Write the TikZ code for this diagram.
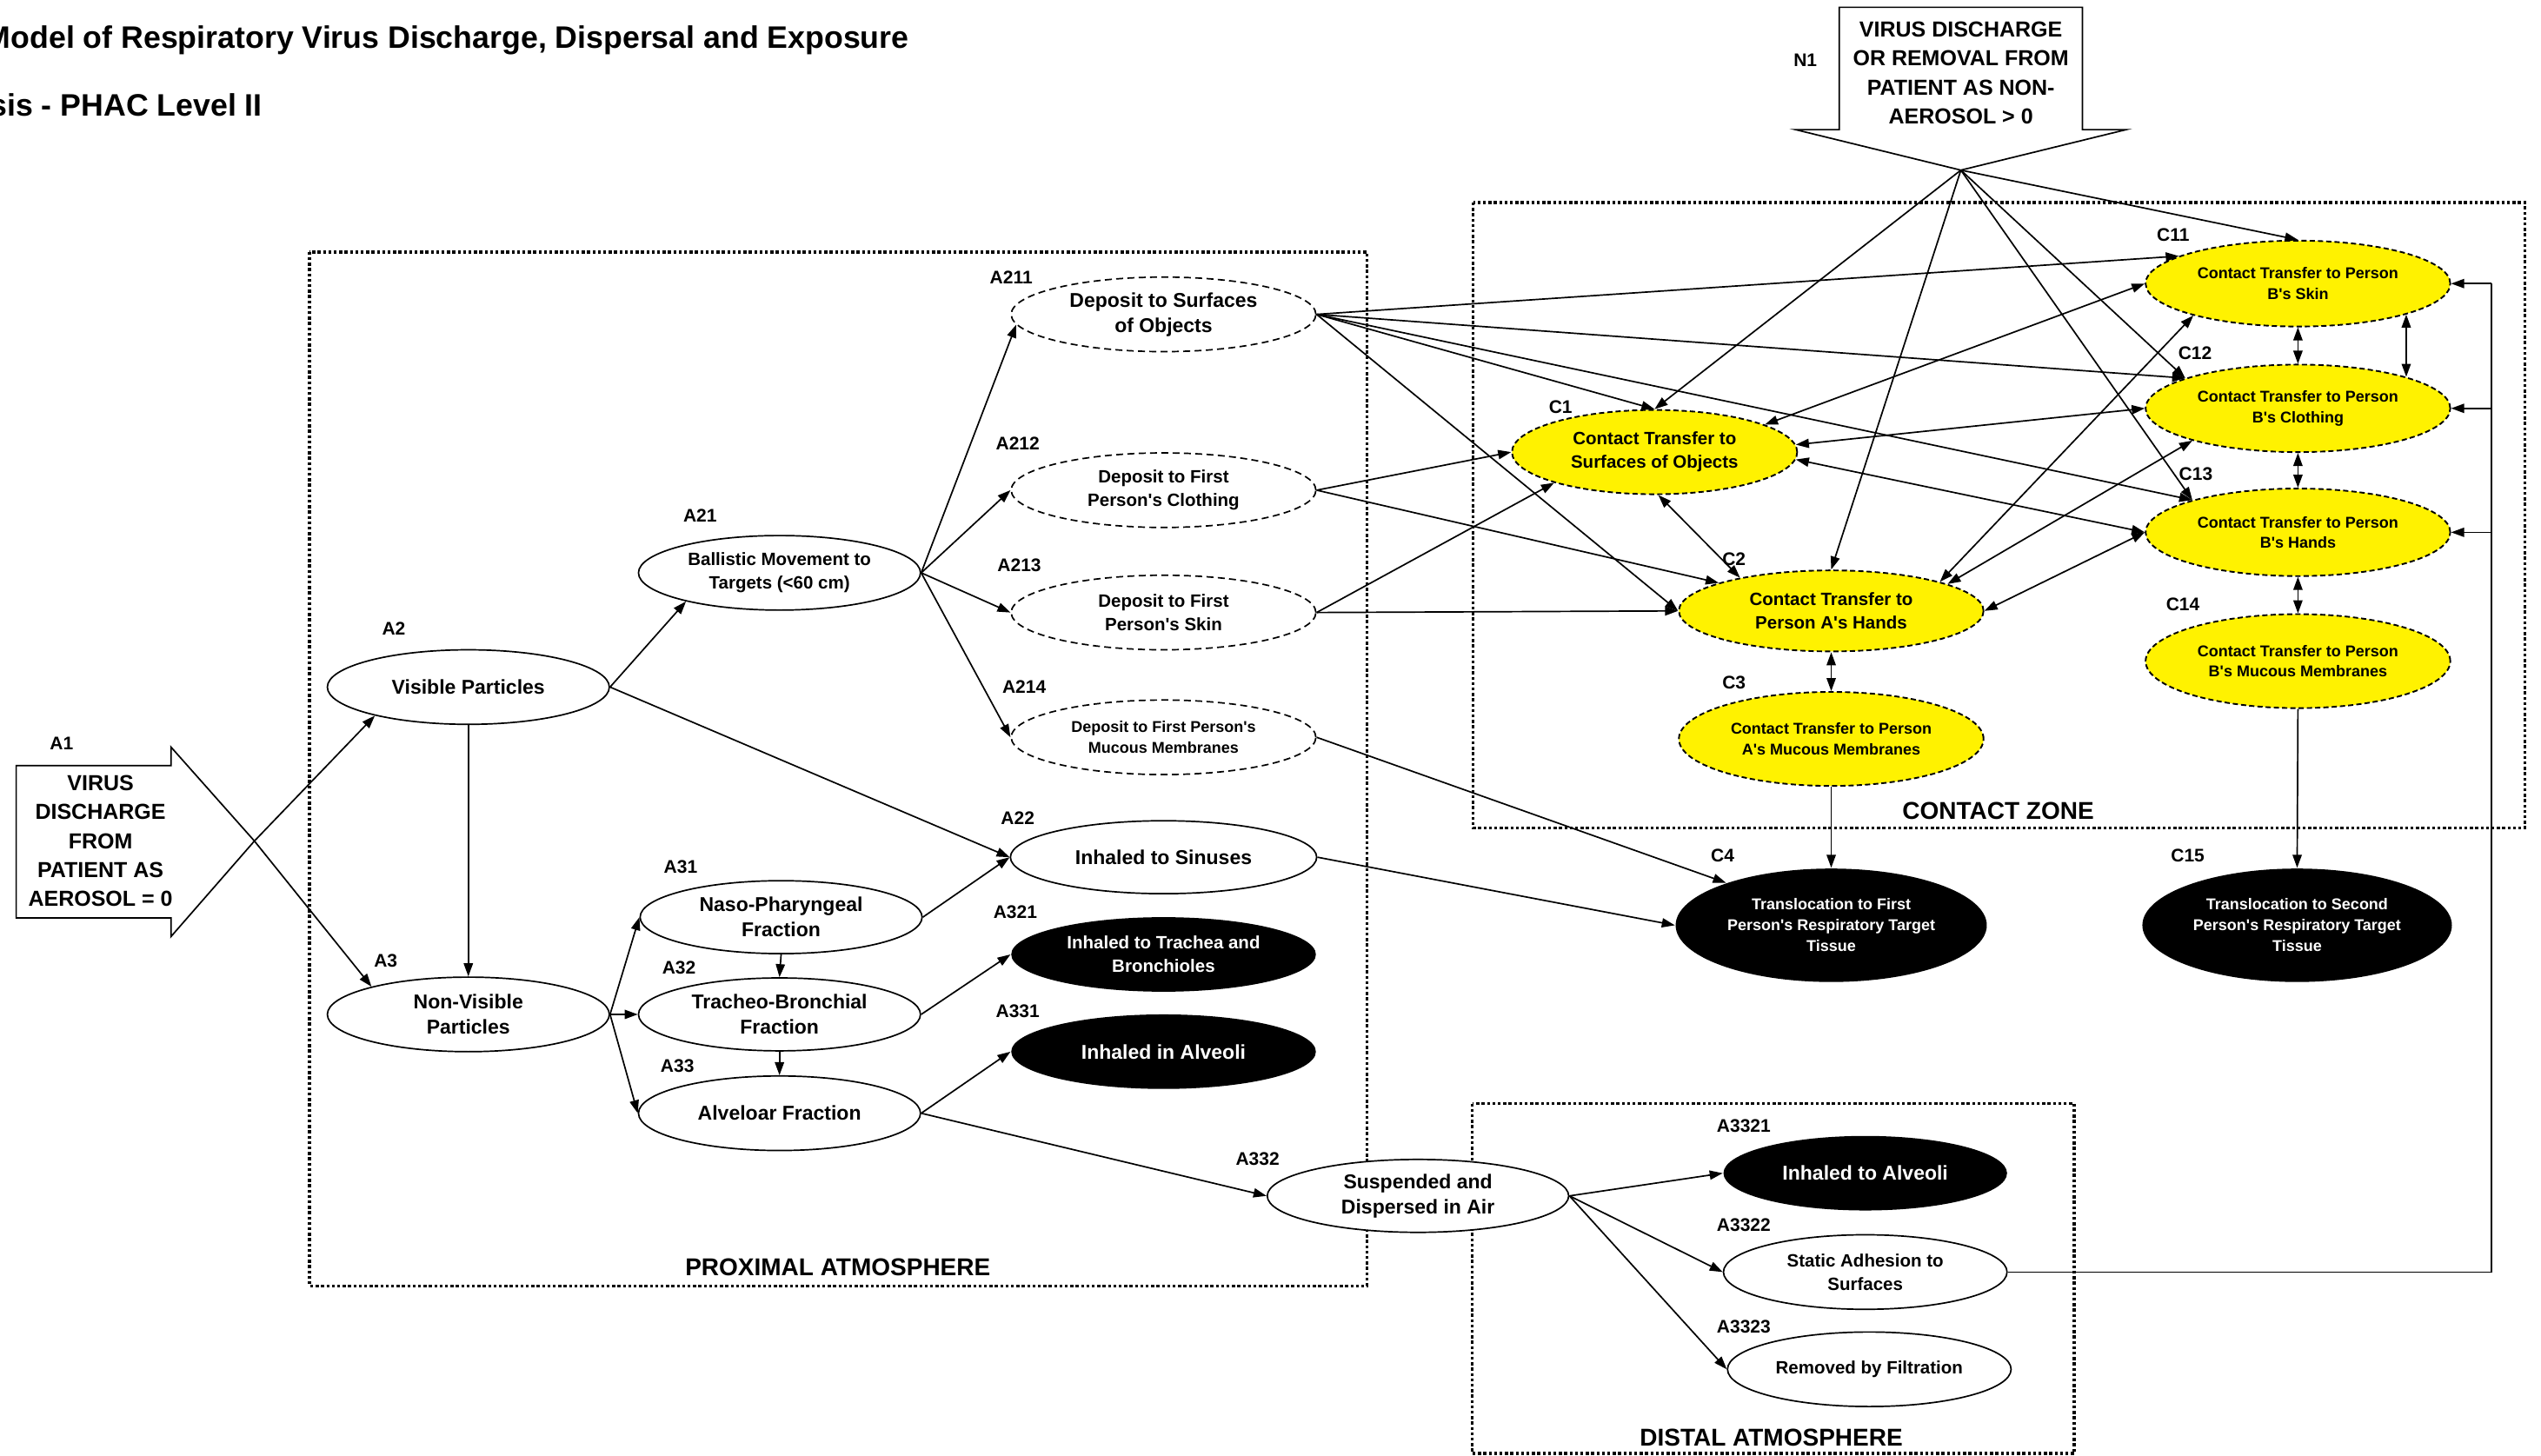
\documentclass[tikz,border=0pt]{standalone}
\usepackage{fontspec}
\setmainfont{Liberation Sans}[Ligatures=TeXOff]
\usetikzlibrary{shapes.geometric,arrows.meta}
\newcommand\fz[2]{\fontsize{#1}{#2}\selectfont\bfseries}
\tikzset{
  sz/.style 2 args={minimum width=#1*1.8642pt, minimum height=#2*1.8642pt},
  el/.style={ellipse, inner sep=0pt, align=center, line width=1.7pt},
  wht/.style={el, draw, fill=white},
  dep/.style={el, draw, fill=white, dash pattern=on 8pt off 5pt},
  ylw/.style={el, draw, fill=yellow, line width=1.9pt, dash pattern=on 6pt off 3.5pt},
  blk/.style={el, fill=black, text=white},
  fA/.style={font=\fz{23}{29}},
  fB/.style={font=\fz{20.5}{27}},
  fC/.style={font=\fz{18}{23.5}},
  tag/.style={font=\fz{21}{25}, inner sep=0pt},
  zlab/.style={font=\fz{28}{32}, inner sep=0pt},
  arr/.style={line width=1.7pt, -{Triangle[length=15pt,width=10.5pt]}},
  dbl/.style={line width=1.7pt, {Triangle[length=15pt,width=10.5pt]}-{Triangle[length=15pt,width=10.5pt]}},
  zone/.style={line width=3.4pt, dash pattern=on 3.4pt off 2.8pt},
  shp/.style={line width=1.7pt, line join=miter},
}
\begin{document}
\begin{tikzpicture}[x=1.8642pt,y=-1.8642pt]
\path[use as bounding box] (0,0) rectangle (1568,898.5);

% titles
\node[anchor=base east, font=\fz{35.7}{40}, inner sep=0pt] (title1) at (561,30) {Model of Respiratory Virus Discharge, Dispersal and Exposure};
\node[anchor=base east, font=\fz{35.7}{40}, inner sep=0pt] (title2) at (162,71.5) {sis - PHAC Level II};

% zones
\draw[zone] (191,155.5) rectangle (843.5,793.5);
\draw[zone] (909,125) rectangle (1558,511);
\draw[zone] (908.5,681) rectangle (1280,897);
\node[zlab] (zprox) at (517,782) {PROXIMAL ATMOSPHERE};
\node[zlab] (zcont) at (1233,500.5) {CONTACT ZONE};
\node[zlab] (zdist) at (1093,887) {DISTAL ATMOSPHERE};

% A1 arrow shape
\draw[shp, fill=white] (10,472.5) -- (105.5,472.5) -- (105.5,461) -- (157,519) -- (105.5,578) -- (105.5,566.5) -- (10,566.5) -- cycle;
\coordinate (A1tip) at (157,519);
\node[font=\fz{25}{33.4}, align=center, inner sep=0pt] (A1txt) at (62,519) {VIRUS\\DISCHARGE\\FROM\\PATIENT AS\\AEROSOL = 0};
\node[tag] (tA1) at (38,459) {A1};

% N1 arrow shape
\draw[shp, fill=white] (1135,4.5) -- (1285,4.5) -- (1285,80) -- (1312,80) -- (1210,105) -- (1108,80) -- (1135,80) -- cycle;
\coordinate (N1tip) at (1210,105);
\node[font=\fz{25}{33.4}, align=center, inner sep=0pt] (N1txt) at (1210,45) {VIRUS DISCHARGE\\OR REMOVAL FROM\\PATIENT AS NON-\\AEROSOL > 0};
\node[tag] (tN1) at (1114,37) {N1};

% A nodes
\node[wht, sz={174}{46}, fA] (A2) at (289,424) {Visible Particles};
\node[wht, sz={174}{46}, fA] (A3) at (289,626) {Non-Visible\\Particles};
\node[wht, sz={174}{46}, fB] (A21) at (481,353.5) {Ballistic Movement to\\Targets (<60 cm)};
\node[dep, sz={188}{46}, fA] (A211) at (718,194) {Deposit to Surfaces\\of Objects};
\node[dep, sz={188}{46}, fB] (A212) at (718,302.5) {Deposit to First\\Person's Clothing};
\node[dep, sz={188}{46}, fB] (A213) at (718,378) {Deposit to First\\Person's Skin};
\node[dep, sz={188}{46}, fC] (A214) at (718,455) {Deposit to First Person's\\Mucous Membranes};
\node[wht, sz={189}{45}, fA] (A22) at (718,529) {Inhaled to Sinuses};
\node[wht, sz={174}{45}, fA] (A31) at (482,566) {Naso-Pharyngeal\\Fraction};
\node[wht, sz={174}{45}, fA] (A32) at (481,626) {Tracheo-Bronchial\\Fraction};
\node[wht, sz={174}{46}, fA] (A33) at (481,687) {Alveloar Fraction};
\node[blk, sz={188}{46}, fB] (A321) at (718,589) {Inhaled to Trachea and\\Bronchioles};
\node[blk, sz={188}{46}, fA] (A331) at (718,649) {Inhaled in Alveoli};
\node[wht, sz={186}{45}, fA] (A332) at (875,738) {Suspended and\\Dispersed in Air};
\node[blk, sz={175}{46}, fA] (A3321) at (1151,724) {Inhaled to Alveoli};
\node[wht, sz={175}{46}, fB] (A3322) at (1151,785) {Static Adhesion to\\Surfaces};
\node[wht, sz={175}{46}, fB] (A3323) at (1153.5,845) {Removed by Filtration};

% C nodes
\node[ylw, sz={176}{52}, fB] (C1) at (1021,279) {Contact Transfer to\\Surfaces of Objects};
\node[ylw, sz={188}{50}, fB] (C2) at (1130,377) {Contact Transfer to\\Person A's Hands};
\node[ylw, sz={188}{58}, fC] (C3) at (1130,456) {Contact Transfer to Person\\A's Mucous Membranes};
\node[ylw, sz={188}{53}, fC] (C11) at (1418,175) {Contact Transfer to Person\\B's Skin};
\node[ylw, sz={188}{54}, fC] (C12) at (1418,252) {Contact Transfer to Person\\B's Clothing};
\node[ylw, sz={188}{54}, fC] (C13) at (1418,328.5) {Contact Transfer to Person\\B's Hands};
\node[ylw, sz={188}{58}, fC] (C14) at (1418,408) {Contact Transfer to Person\\B's Mucous Membranes};
\node[blk, sz={192}{70}, font=\fz{18}{24}] (C4) at (1130,571) {Translocation to First\\Person's Respiratory Target\\Tissue};
\node[blk, sz={191}{70}, font=\fz{18}{24}] (C15) at (1417.5,571) {Translocation to Second\\Person's Respiratory Target\\Tissue};

% tags
\node[tag] (tA2) at (243,388) {A2};
\node[tag] (tA3) at (238,593) {A3};
\node[tag] (tA21) at (432,318) {A21};
\node[tag] (tA211) at (624,171) {A211};
\node[tag] (tA212) at (628,273.5) {A212};
\node[tag] (tA213) at (629,349) {A213};
\node[tag] (tA214) at (632,424) {A214};
\node[tag] (tA22) at (628,505) {A22};
\node[tag] (tA31) at (420,535) {A31};
\node[tag] (tA32) at (419,597) {A32};
\node[tag] (tA33) at (418,658) {A33};
\node[tag] (tA321) at (626.5,563) {A321};
\node[tag] (tA331) at (628,624) {A331};
\node[tag] (tA332) at (776,715) {A332};
\node[tag] (tA3321) at (1076,695) {A3321};
\node[tag] (tA3322) at (1076,756) {A3322};
\node[tag] (tA3323) at (1076,819) {A3323};
\node[tag] (tC1) at (963,251) {C1};
\node[tag] (tC2) at (1070,345) {C2};
\node[tag] (tC3) at (1070,421) {C3};
\node[tag] (tC4) at (1063,528) {C4};
\node[tag] (tC11) at (1341,145) {C11};
\node[tag] (tC12) at (1354.5,218) {C12};
\node[tag] (tC13) at (1355,292.5) {C13};
\node[tag] (tC14) at (1347,373) {C14};
\node[tag] (tC15) at (1350,528) {C15};

% edges: aerosol side
\draw[arr] (A1tip) -- (A2.197);
\draw[arr] (A1tip) -- (A3.164);
\draw[arr] (A2.south) -- (A3.north);
\draw[arr] (A2.east) -- (A21.197);
\draw[arr] (A2.east) -- (A22.west);
\draw[arr] (A21.east) -- (A211.184);
\draw[arr] (A21.east) -- (A212.west);
\draw[arr] (A21.east) -- (A213.west);
\draw[arr] (A21.east) -- (A214.west);
\draw[arr] (A3.east) -- (A31.west);
\draw[arr] (A3.east) -- (A32.west);
\draw[arr] (A3.east) -- (A33.west);
\draw[arr] (A31.south) -- (A32.north);
\draw[arr] (A32.south) -- (A33.north);
\draw[arr] (A31.east) -- (A22.west);
\draw[arr] (A32.east) -- (A321.west);
\draw[arr] (A33.east) -- (A331.west);
\draw[arr] (A33.east) -- (A332.west);
\draw[arr] (A332.east) -- (A3321.west);
\draw[arr] (A332.east) -- (A3322.west);
\draw[arr] (A332.east) -- (A3323.west);
\coordinate (Rb) at (1537.5,785);
\coordinate (Rt) at (1537.5,175);
\draw[line width=1.7pt] (A3322.east) -- (Rb) -- (Rt);
\draw[arr] (Rt) -- (C11.east);
\draw[arr] (Rb |- C12.east) -- (C12.east);
\draw[arr] (Rb |- C13.east) -- (C13.east);

% edges into contact zone
\draw[arr] (A211.east) -- (C11.167);
\draw[arr] (A211.east) -- (C12.165);
\draw[arr] (A211.east) -- (C1.north);
\draw[arr] (A211.east) -- (C13.163);
\draw[arr] (A211.east) -- (C2.west);
\draw[arr] (A212.east) -- (C1.west);
\draw[arr] (A212.east) -- (C2.166);
\draw[arr] (A213.east) -- (C1.197);
\draw[arr] (A213.east) -- (C2.west);
\draw[arr] (A214.east) -- (C4.158);
\draw[arr] (A22.east) -- (C4.west);
\draw[arr] (N1tip) -- (C11.north);
\draw[arr] (N1tip) -- (C1.north);
\draw[arr] (N1tip) -- (C2.north);
\draw[arr] (N1tip) -- (C12.165);
\draw[arr] (N1tip) -- (C13.163);

% contact zone interconnections
\draw[dbl] (C1.14) -- (C11.west);
\draw[dbl] (C1.3) -- (C12.west);
\draw[dbl] (C1.-3) -- (C13.west);
\draw[dbl] (C1.-85) -- (C2.160);
\draw[dbl] (C2.15) -- (C11.197);
\draw[dbl] (C2.13) -- (C12.197);
\draw[dbl] (C2.east) -- (C13.west);
\draw[dbl] (C2.south) -- (C3.north);
\draw[dbl] (C11.south) -- (C12.north);
\draw[dbl] (C11.south east) -- (C12.north east);
\draw[dbl] (C12.south) -- (C13.north);
\draw[dbl] (C13.south) -- (C14.north);
\draw[arr] (C3.south) -- (C4.north);
\draw[arr] (C14.south) -- (C15.north);
\end{tikzpicture}
\end{document}
